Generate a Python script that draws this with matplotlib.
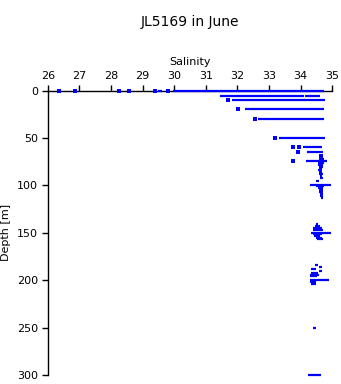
import matplotlib
matplotlib.use("Agg")
import matplotlib.pyplot as plt

# Salinity profile of JL5169 in June.
# Continuous runs of samples: depth [m], salinity from, salinity to
seg_depth = [0, 0, 5.3, 5.3, 10.1, 19.6, 30.2, 50.2, 59.5, 65, 74.5,
             70, 72, 76, 78, 80, 82, 84, 86, 88, 90, 92, 95.6,
             99.5, 101, 103, 105, 107, 109, 111, 113,
             141, 143, 145, 147, 149.8, 151, 153, 155, 157,
             184, 186.5, 188.5, 190, 192, 194, 196, 199.7, 202, 204,
             250, 300]
seg_from = [29.50, 29.96, 31.45, 34.14, 31.82, 32.24, 32.66, 33.33, 34.08, 34.21, 34.17,
            34.62, 34.58, 34.55, 34.56, 34.58, 34.57, 34.55, 34.57, 34.58, 34.60, 34.62, 34.49,
            34.30, 34.50, 34.55, 34.57, 34.58, 34.60, 34.62, 34.64,
            34.49, 34.45, 34.40, 34.38, 34.33, 34.40, 34.42, 34.48, 34.52,
            34.46, 34.59, 34.34, 34.59, 34.32, 34.30, 34.28, 34.28, 34.30, 34.34,
            34.40, 34.22]
seg_to = [29.62, 34.74, 34.10, 34.60, 34.78, 34.74, 34.74, 34.78, 34.68, 34.70, 34.83,
          34.70, 34.74, 34.75, 34.72, 34.70, 34.68, 34.66, 34.66, 34.70, 34.68, 34.72, 34.59,
          34.95, 34.75, 34.72, 34.70, 34.70, 34.70, 34.72, 34.72,
          34.55, 34.62, 34.68, 34.70, 34.96, 34.66, 34.62, 34.66, 34.70,
          34.54, 34.66, 34.47, 34.66, 34.55, 34.58, 34.52, 34.89, 34.50, 34.48,
          34.47, 34.63]

# Single samples
pt_depth = [0, 0, 0, 0, 0, 0, 10.1, 19.6, 30.2, 50.2, 59.5, 59.5, 65, 68.6, 74.5]
pt_sal = [26.35, 26.85, 28.27, 28.56, 29.40, 29.79, 31.71, 32.03, 32.57, 33.19,
          33.77, 33.94, 33.93, 34.65, 33.75]

x_ticks = [26, 27, 28, 29, 30, 31, 32, 33, 34, 35]
y_ticks = [0, 50, 100, 150, 200, 250, 300]

fig = plt.figure(figsize=(3.41, 3.84), dpi=100)
ax = fig.add_axes([0.1399, 0.0234, 0.8346, 0.7404])

ax.hlines(seg_depth, seg_from, seg_to, colors="#0000ff", linewidth=1.6,
          clip_on=False, zorder=4)
ax.scatter(pt_sal, pt_depth, marker="s", s=7, color="#0000ff", linewidths=0,
           clip_on=False, zorder=4)

ax.set_xlim(26, 35)
ax.set_ylim(300, 0)
ax.set_xticks(x_ticks)
ax.set_yticks(y_ticks)
ax.xaxis.tick_top()
ax.xaxis.set_label_position("top")

ax.spines["right"].set_visible(False)
ax.spines["bottom"].set_visible(False)
ax.spines["left"].set_linewidth(1)
ax.spines["top"].set_linewidth(1)
ax.tick_params(axis="both", direction="out", length=4, width=1, labelsize=8, pad=3)

ax.set_xlabel("Salinity", fontsize=8, labelpad=4)
ax.set_ylabel("Depth [m]", fontsize=8, labelpad=4)
fig.text(0.557, 0.943, "JL5169 in June", fontsize=10, ha="center", va="center")

fig.savefig("out.png", dpi=100)
